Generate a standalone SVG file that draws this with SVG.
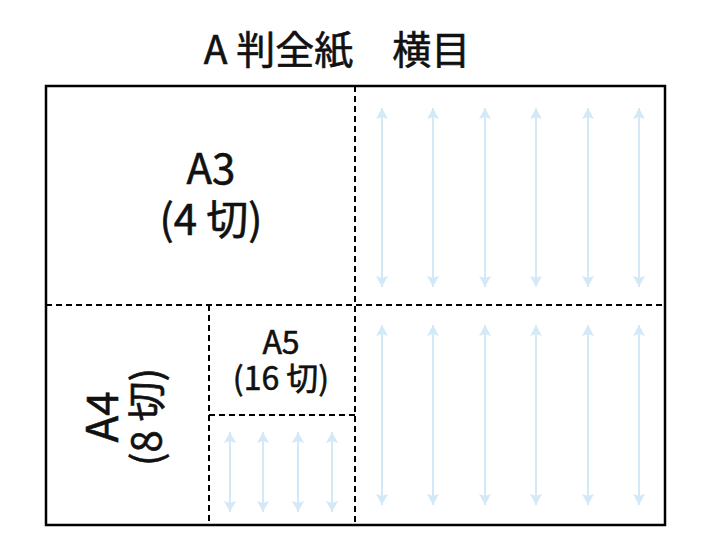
<svg xmlns="http://www.w3.org/2000/svg" width="710" height="560" viewBox="0 0 710 560">
<defs>
<style>
text{font-family:"Noto Sans CJK JP","Noto Sans",sans-serif;fill:#111;stroke:#111;stroke-width:0.6;text-anchor:middle}
.dash{stroke:#000;stroke-width:2;stroke-dasharray:6 4;fill:none}
.arr{stroke:#d4e9f7;stroke-width:2;fill:none;marker-start:url(#ah);marker-end:url(#ah)}
</style>
<marker id="ah" markerUnits="userSpaceOnUse" markerWidth="12" markerHeight="12" refX="11" refY="6" orient="auto-start-reverse">
<path d="M0,0 L11,6 L0,12 L2,6 z" fill="#d4e9f7"/>
</marker>
</defs>
<rect width="710" height="560" fill="#fff"/>
<g id="title"><text x="337" y="64" font-size="39">A 判全紙　横目</text></g>
<g id="sheet"><rect x="46" y="86" width="619" height="439" fill="none" stroke="#000" stroke-width="2.5"/></g>
<g id="connectors">
<line class="dash" x1="355" y1="86" x2="355" y2="525"/>
<line class="dash" x1="46" y1="305" x2="665" y2="305"/>
<line class="dash" x1="209" y1="305" x2="209" y2="525"/>
<line class="dash" x1="209" y1="415" x2="355" y2="415"/>
<line class="arr" x1="382" y1="108" x2="382" y2="287"/>
<line class="arr" x1="433" y1="108" x2="433" y2="287"/>
<line class="arr" x1="485" y1="108" x2="485" y2="287"/>
<line class="arr" x1="536" y1="108" x2="536" y2="287"/>
<line class="arr" x1="588" y1="108" x2="588" y2="287"/>
<line class="arr" x1="639" y1="108" x2="639" y2="287"/>
<line class="arr" x1="382" y1="325" x2="382" y2="505"/>
<line class="arr" x1="433" y1="325" x2="433" y2="505"/>
<line class="arr" x1="485" y1="325" x2="485" y2="505"/>
<line class="arr" x1="536" y1="325" x2="536" y2="505"/>
<line class="arr" x1="588" y1="325" x2="588" y2="505"/>
<line class="arr" x1="639" y1="325" x2="639" y2="505"/>
<line class="arr" x1="230" y1="432" x2="230" y2="512"/>
<line class="arr" x1="263" y1="432" x2="263" y2="512"/>
<line class="arr" x1="298" y1="432" x2="298" y2="512"/>
<line class="arr" x1="332" y1="432" x2="332" y2="512"/>
</g>
<g id="a3"><text x="211" y="184" font-size="42">A3</text><text x="211" y="235" font-size="42">(4 切)</text></g>
<g id="a4"><text transform="translate(118,417) rotate(-90)" font-size="44">A4</text><text transform="translate(161,417) rotate(-90)" font-size="40">(8 切)</text></g>
<g id="a5"><text x="281" y="354" font-size="32">A5</text><text x="281" y="390" font-size="32">(16 切)</text></g>
</svg>
